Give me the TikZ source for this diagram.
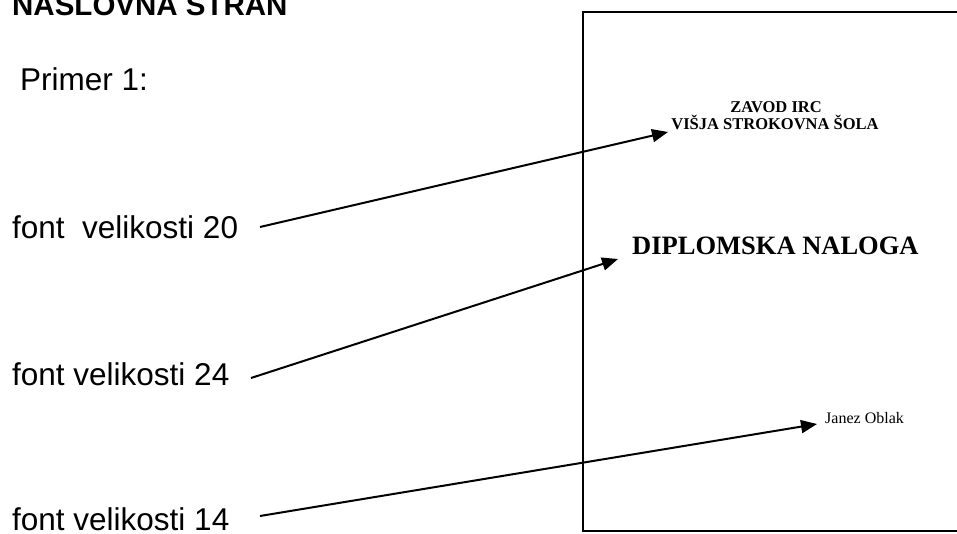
\documentclass[tikz,border=0pt]{standalone}
\usepackage{fontspec}
\setmainfont{Liberation Serif}
\newfontfamily\arialf{Liberation Sans}
\usetikzlibrary{arrows.meta}
\tikzset{
  lbl/.style={anchor=base west, inner sep=0pt, font=\arialf\fontsize{31.5}{36}\selectfont},
  ttl/.style={anchor=base west, inner sep=0pt, font=\arialf\bfseries\fontsize{29.5}{36}\selectfont},
  pagetext/.style={inner sep=0pt},
  pointer/.style={line width=2pt, -{Triangle[length=16pt,width=13pt]}},
  frame/.style={line width=1.8pt}
}
\begin{document}
\begin{tikzpicture}[x=1pt,y=-1pt]
\useasboundingbox (0,0) rectangle (957,534);
\clip (0,0) rectangle (957,534);
% page frame (cut at the right)
\draw[frame] (965,12) -- (583,12) -- (583,531) -- (965,531);
% left texts
\node[ttl] (title) at (12,16) {NASLOVNA STRAN};
\node[lbl] (primer) at (20,91) {Primer 1:};
\node[lbl] (l20) at (12,239) {font\ \ velikosti 20};
\node[lbl] (l24) at (12,385) {font velikosti 24};
\node[lbl] (l14) at (12,530) {font velikosti 14};
% page texts
\node[pagetext, anchor=base, font=\bfseries\fontsize{16.5}{19}\selectfont] (zavod) at (776,113) {ZAVOD IRC};
\node[pagetext, anchor=base, font=\bfseries\fontsize{16.5}{19}\selectfont] (visja) at (775,130) {VIŠJA STROKOVNA ŠOLA};
\node[pagetext, anchor=base west, font=\bfseries\fontsize{26.5}{30}\selectfont] (dipl) at (632,255) {DIPLOMSKA NALOGA};
\node[pagetext, anchor=base west, font=\fontsize{16}{19}\selectfont] (janez) at (825,423) {Janez Oblak};
% connector ends
\coordinate (s20) at (260,227);
\coordinate (t20) at (668,132);
\coordinate (s24) at (251,378);
\coordinate (t24) at (618,259);
\coordinate (s14) at (260,516);
\coordinate (t14) at (817,424);
\draw[pointer] (s20) -- (t20);
\draw[pointer] (s24) -- (t24);
\draw[pointer] (s14) -- (t14);
\end{tikzpicture}
\end{document}
